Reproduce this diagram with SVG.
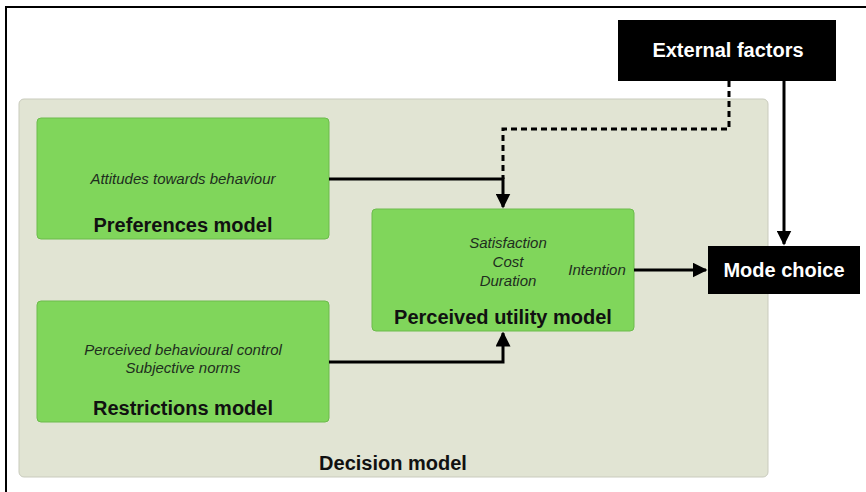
<svg xmlns="http://www.w3.org/2000/svg" width="866" height="492" viewBox="0 0 866 492">
<defs>
<marker id="ah" viewBox="0 0 10 10" refX="9" refY="5" markerWidth="5" markerHeight="5" markerUnits="strokeWidth" orient="auto">
<path d="M0,0 L10,5 L0,10 z" fill="#000"/>
</marker>
<style>
.green{fill:#80d65b;stroke:#6cbb4c;stroke-width:1}
.blk{fill:#000}
.it{font-family:"Liberation Sans",Arial,sans-serif;font-style:italic;font-size:15px;fill:#1e2e1e;text-anchor:middle}
.bd{font-family:"Liberation Sans",Arial,sans-serif;font-weight:bold;font-size:20px;fill:#111;text-anchor:middle}
.wt{font-family:"Liberation Sans",Arial,sans-serif;font-weight:bold;font-size:20px;fill:#fff;text-anchor:middle}
.ln{fill:none;stroke:#000;stroke-width:3}
</style>
</defs>
<rect width="866" height="492" fill="#fff"/>
<path d="M6,492 V7 H866" fill="none" stroke="#000" stroke-width="2"/>
<g id="decision-model">
<rect x="19" y="99" width="749" height="378" rx="5" fill="#e1e4d3" stroke="#c9cbbd" stroke-width="1"/>
<text class="bd" x="393" y="470">Decision model</text>
</g>
<g id="preferences-model">
<rect class="green" x="37" y="118" width="292" height="121" rx="4"/>
<text class="it" x="183" y="184">Attitudes towards behaviour</text>
<text class="bd" x="183" y="232">Preferences model</text>
</g>
<g id="restrictions-model">
<rect class="green" x="37" y="301" width="292" height="121" rx="4"/>
<text class="it" x="183" y="355">Perceived behavioural control</text>
<text class="it" x="183" y="373">Subjective norms</text>
<text class="bd" x="183" y="415">Restrictions model</text>
</g>
<g id="perceived-utility-model">
<rect class="green" x="372" y="209" width="262" height="122" rx="4"/>
<text class="it" x="508" y="248">Satisfaction</text>
<text class="it" x="508" y="267">Cost</text>
<text class="it" x="508" y="286">Duration</text>
<text class="it" x="597" y="275">Intention</text>
<text class="bd" x="503" y="324">Perceived utility model</text>
</g>
<g id="external-factors">
<rect class="blk" x="618" y="20" width="218" height="61"/>
<text class="wt" x="728" y="57">External factors</text>
</g>
<g id="mode-choice">
<rect class="blk" x="708" y="246" width="152" height="48"/>
<text class="wt" x="784" y="277">Mode choice</text>
</g>
<g id="connectors">
<path class="ln" d="M329,179 H503 V207" marker-end="url(#ah)"/>
<path class="ln" d="M329,362 H503 V333" marker-end="url(#ah)"/>
<path class="ln" d="M634,270 H706" marker-end="url(#ah)"/>
<path class="ln" d="M784,81 V244" marker-end="url(#ah)"/>
<path class="ln" d="M729,81 V129 H503 V179" stroke-dasharray="6,4"/>
</g>
</svg>
